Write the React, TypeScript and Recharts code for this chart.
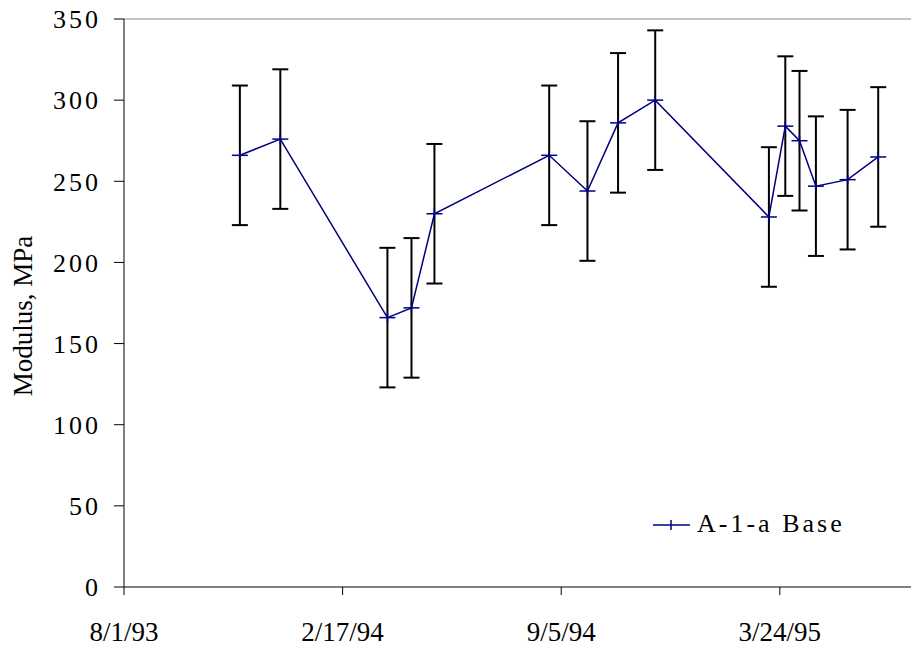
import { ErrorBar, Line, LineChart, ReferenceLine, XAxis, YAxis } from "recharts";

const dates = [
  "11/15/93", "12/22/93", "3/30/94", "4/21/94", "5/12/94", "8/25/94", "9/29/94", "10/27/94",
  "11/30/94", "3/14/95", "3/29/95", "4/11/95", "4/26/95", "5/25/95", "6/22/95",
];
const modulus = [266, 276, 166, 172, 230, 266, 244, 286, 300, 228, 284, 275, 247, 251, 265];
const errors = [43, 43, 43, 43, 43, 43, 43, 43, 43, 43, 43, 43, 43, 43, 43];
const xTicks = ["8/1/93", "2/17/94", "9/5/94", "3/24/95"];
const yTicks = [0, 50, 100, 150, 200, 250, 300, 350];

const FONT = "'Liberation Serif', 'Times New Roman', serif";
const NAVY = "#000080";

const toDay = (s: string) => {
  const [m, d, y] = s.split("/").map(Number);
  return Date.UTC(1900 + y, m - 1, d) / 86400000;
};
const fromDay = (v: number) => {
  const dt = new Date(v * 86400000);
  return `${dt.getUTCMonth() + 1}/${dt.getUTCDate()}/${dt.getUTCFullYear() % 100}`;
};

const data = dates.map((d, i) => ({ day: toDay(d), value: modulus[i], err: errors[i] }));
const start = toDay(xTicks[0]);

const PlusDot = (props: any) => {
  const { cx, cy, index } = props;
  if (cx == null || cy == null) return <g key={index} />;
  return (
    <g key={index}>
      <line x1={cx - 8} x2={cx + 8} y1={cy} y2={cy} stroke={NAVY} strokeWidth={1.5} />
      <line x1={cx} x2={cx} y1={cy - 5} y2={cy + 5} stroke={NAVY} strokeWidth={1.5} />
    </g>
  );
};

export default function App() {
  return (
    <div style={{ position: "absolute", left: 0, top: 0, width: 911, height: 652, background: "#fff" }}>
      <LineChart width={911} height={652} data={data} margin={{ top: 19, right: 0, bottom: 0, left: 0 }}>
        <ReferenceLine y={350} stroke="#b0b0b0" strokeWidth={1.5} />
        <XAxis
          dataKey="day"
          type="number"
          domain={[start, start + 720]}
          ticks={xTicks.map(toDay)}
          tickFormatter={fromDay}
          height={65}
          stroke="#000"
          tickSize={8}
          tickMargin={27}
          tick={{ fontFamily: FONT, fontSize: 27, fill: "#000" }}
          allowDataOverflow
        />
        <YAxis
          type="number"
          domain={[0, 350]}
          ticks={yTicks}
          width={124}
          stroke="#000"
          tickSize={10}
          tickMargin={13}
          tick={{ fontFamily: FONT, fontSize: 26, fill: "#000", letterSpacing: 3 }}
          label={{
            content: () => (
              <text
                x={32}
                y={316}
                transform="rotate(-90 32 316)"
                textAnchor="middle"
                fontFamily={FONT}
                fontSize={27}
                fill="#000"
              >
                Modulus, MPa
              </text>
            ),
          }}
        />
        <Line
          type="linear"
          dataKey="value"
          stroke={NAVY}
          strokeWidth={1.5}
          dot={PlusDot}
          activeDot={false}
          isAnimationActive={false}
          name="A-1-a Base"
        >
          <ErrorBar dataKey="err" direction="y" width={8} stroke="#000" strokeWidth={2} isAnimationActive={false} />
        </Line>
      </LineChart>
      <svg width={220} height={40} style={{ position: "absolute", left: 650, top: 505 }}>
        <line x1={3} x2={40} y1={20} y2={20} stroke={NAVY} strokeWidth={1.5} />
        <line x1={21} x2={21} y1={15} y2={25} stroke={NAVY} strokeWidth={1.5} />
        <text x={47} y={27} fontFamily={FONT} fontSize={26} letterSpacing={3} fill="#000">
          A-1-a Base
        </text>
      </svg>
    </div>
  );
}
